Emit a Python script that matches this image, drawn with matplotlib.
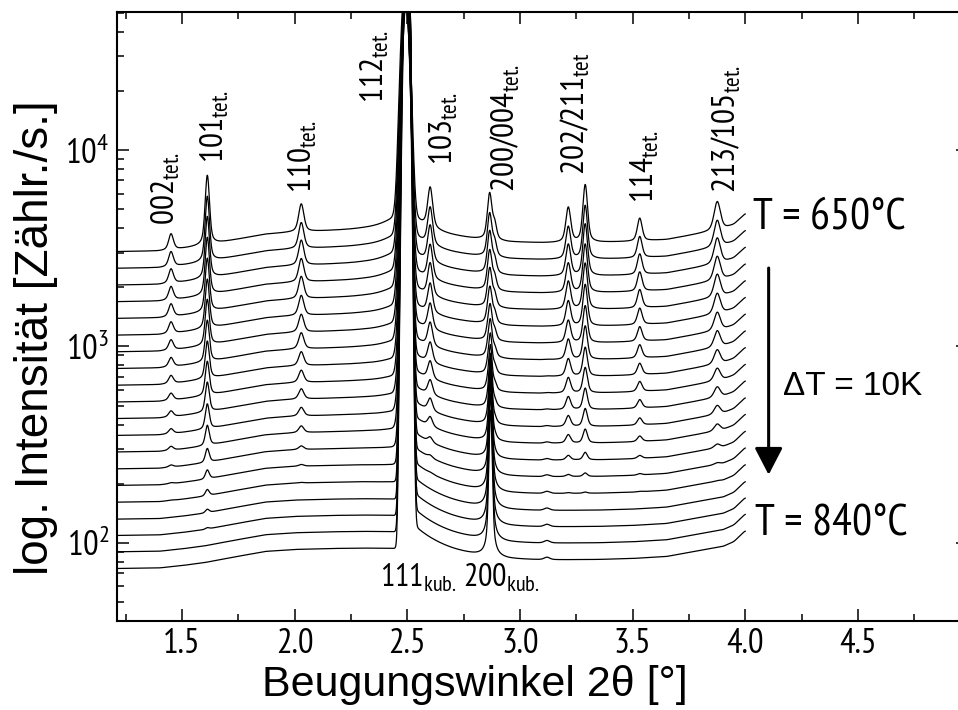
import numpy as np
import matplotlib
matplotlib.use("Agg")
import matplotlib.pyplot as plt
from matplotlib.ticker import LogLocator, MultipleLocator, NullFormatter

NARROW = ['PT Sans Narrow', 'Roboto Condensed', 'Liberation Sans', 'DejaVu Sans']
WIDE = ['Liberation Sans', 'DejaVu Sans']
plt.rcParams['font.family'] = NARROW
plt.rcParams['mathtext.fontset'] = 'custom'
plt.rcParams['mathtext.rm'] = 'PT Sans Narrow'
plt.rcParams['mathtext.it'] = 'PT Sans Narrow:italic'
plt.rcParams['mathtext.bf'] = 'PT Sans Narrow:bold'

# temperatures of the scans (top curve = 650 C, bottom = 840 C)
temps = [650, 660, 670, 680, 690, 700, 710, 720, 730, 740,
         750, 760, 770, 780, 790, 800, 810, 820, 830, 840]
# counts of each (offset) scan at the left end of the pattern
base_level = [3034, 2495, 2051, 1687, 1387, 1140, 938, 771, 634, 521,
              429, 352, 290, 238, 196, 161, 132, 109, 90, 74]

# common background shape, log10 offset from the left end
bg_x = [1.20, 1.40, 1.50, 1.60, 1.72, 1.87, 2.00, 2.17, 2.30, 2.45, 2.55,
        2.70, 2.80, 2.95, 3.10, 3.35, 3.50, 3.65, 3.80, 3.90, 3.95, 4.00]
bg_dec = [0.0, 0.003, 0.015, 0.03, 0.056, 0.087, 0.097, 0.102, 0.104, 0.102, 0.092,
          0.071, 0.059, 0.046, 0.043, 0.046, 0.051, 0.061, 0.092, 0.112, 0.137, 0.193]

# tetragonal reflections: position, height (decades, 650 C scan), half width
tet_pos = [1.452, 1.613, 2.030, 2.602, 2.866, 2.888, 3.215, 3.290, 3.532, 3.876]
tet_height = [0.081, 0.356, 0.143, 0.22, 0.24, 0.08, 0.18, 0.295, 0.117, 0.148]
tet_hwhm = [0.012, 0.010, 0.013, 0.012, 0.011, 0.010, 0.012, 0.011, 0.012, 0.016]

# how much of the tetragonal / cubic phase is left in each scan
tet_frac = [1.0, 0.93, 0.9, 0.84, 0.8, 0.72, 0.64, 0.58, 0.5, 0.44,
            0.37, 0.31, 0.24, 0.13, 0.06, 0.02, 0.0, 0.0, 0.0, 0.0]
frac_101 = [1.0, 0.94, 0.89, 0.83, 0.77, 0.71, 0.66, 0.6, 0.54, 0.49,
            0.43, 0.36, 0.29, 0.2, 0.13, 0.09, 0.05, 0.02, 0.0, 0.0]
kub_frac = [0.0, 0.0, 0.005, 0.01, 0.02, 0.04, 0.07, 0.11, 0.16, 0.22,
            0.3, 0.4, 0.5, 0.62, 0.74, 0.85, 0.93, 0.97, 1.0, 1.0]

# strong lines: 112 tet. and 111 / 200 kub.
pos_112, amp_112, sig_112 = 2.492, 18.0, 0.016
pos_111, amp_111, sig_111 = 2.497, 1000.0, 0.0105
pos_200k, height_200k, hwhm_200k = 2.870, 0.75, 0.007

peak_labels = ['002', '101', '110', '112', '103', '200/004', '202/211', '114', '213/105']
label_sub = ['tet.', 'tet.', 'tet.', 'tet.', 'tet.', 'tet.', 'tet', 'tet.', 'tet.']
label_x = [1.430, 1.648, 2.038, 2.358, 2.662, 2.935, 3.246, 3.557, 3.918]
label_y = [4150, 8590, 6040, 17350, 8400, 6110, 7470, 5370, 6040]


def pvoigt(x, x0, w):
    d = (x - x0) / w
    return 0.5 / (1 + d ** 2) + 0.5 * np.exp(-np.log(2) * d ** 2)


x = np.linspace(1.2, 4.0, 2400)
bg = np.interp(x, bg_x, bg_dec)
win = np.hanning(31)
bg = np.convolve(np.pad(bg, 15, mode='edge'), win / win.sum(), mode='valid')

fig = plt.figure(figsize=(9.58, 7.10), dpi=100)
ax = fig.add_axes([116.5 / 958, 1 - 621 / 710, 851.8 / 958, 609 / 710])

for k in range(len(temps)):
    f = tet_frac[k]
    c = kub_frac[k]
    r = np.zeros_like(x)
    for j in range(len(tet_pos)):
        fj = frac_101[k] if j == 1 else f
        r += (10 ** (tet_height[j] * fj) - 1) * pvoigt(x, tet_pos[j], tet_hwhm[j])
    # 112 tet.
    r += amp_112 * f * np.exp(-(x - pos_112) ** 2 / (2 * sig_112 ** 2))
    r += 0.25 * f / (1 + ((x - pos_112) / 0.09) ** 2)
    # 111 kub. with tail to higher angles
    r += amp_111 * c * np.exp(-(x - pos_111) ** 2 / (2 * sig_111 ** 2))
    r += 0.45 * c * np.exp(-(x - pos_111) / 0.12) / (1 + np.exp(-(x - pos_111) / 0.006))
    # 200 kub. and a weak line near 3.12
    r += (10 ** (height_200k * c) - 1) * pvoigt(x, pos_200k, hwhm_200k)
    r += 0.03 * c * pvoigt(x, 3.12, 0.015)
    y = base_level[k] * 10 ** bg * (1 + r)
    ax.plot(x, y, color='black', lw=0.9)

ax.set_yscale('log')
ax.set_xlim(1.21, 4.99)
ax.set_ylim(40, 50400)
ax.xaxis.set_major_locator(MultipleLocator(0.5))
ax.xaxis.set_minor_locator(MultipleLocator(0.25))
ax.yaxis.set_major_locator(LogLocator(base=10))
ax.yaxis.set_minor_locator(LogLocator(base=10, subs=np.arange(2, 10)))
ax.yaxis.set_minor_formatter(NullFormatter())
ax.tick_params(which='both', direction='in', top=True, right=True, labelsize=25)
ax.tick_params(which='major', length=8.6, width=1.1, pad=5)
ax.tick_params(which='minor', length=5, width=1.1)
for s in ax.spines.values():
    s.set_linewidth(1.5)

ax.set_xlabel('Beugungswinkel 2θ [°]', fontsize=31, family=WIDE)
ax.set_ylabel('log. Intensität [Zählr./s.]', fontsize=33, family=WIDE)
ax.xaxis.set_label_coords(0.421, -0.072)
ax.yaxis.set_label_coords(-0.069, 0.466)

for lab, sub, lx, ly in zip(peak_labels, label_sub, label_x, label_y):
    ax.text(lx, ly, r'$\mathregular{%s_{%s}}$' % (lab, sub), rotation=90,
            ha='center', va='bottom', fontsize=24)

ax.text(2.380, 59.7, r'$\mathregular{111_{kub.}}$', fontsize=23, ha='left', va='baseline')
ax.text(2.748, 59.7, r'$\mathregular{200_{kub.}}$', fontsize=23, ha='left', va='baseline')

ax.text(4.035, 3980, 'T = 650°C', fontsize=32, ha='left', va='baseline')
ax.text(4.044, 110, 'T = 840°C', fontsize=32, ha='left', va='baseline')
ax.text(4.168, 566, 'ΔT = 10K', fontsize=24, ha='left', va='baseline', family=WIDE)
ax.annotate('', xy=(4.104, 222), xytext=(4.104, 2506),
            arrowprops=dict(arrowstyle='-|>,head_length=0.83,head_width=0.43',
                            color='black', lw=2.2, mutation_scale=20,
                            shrinkA=0, shrinkB=0))

fig.savefig('out.png', dpi=100)
